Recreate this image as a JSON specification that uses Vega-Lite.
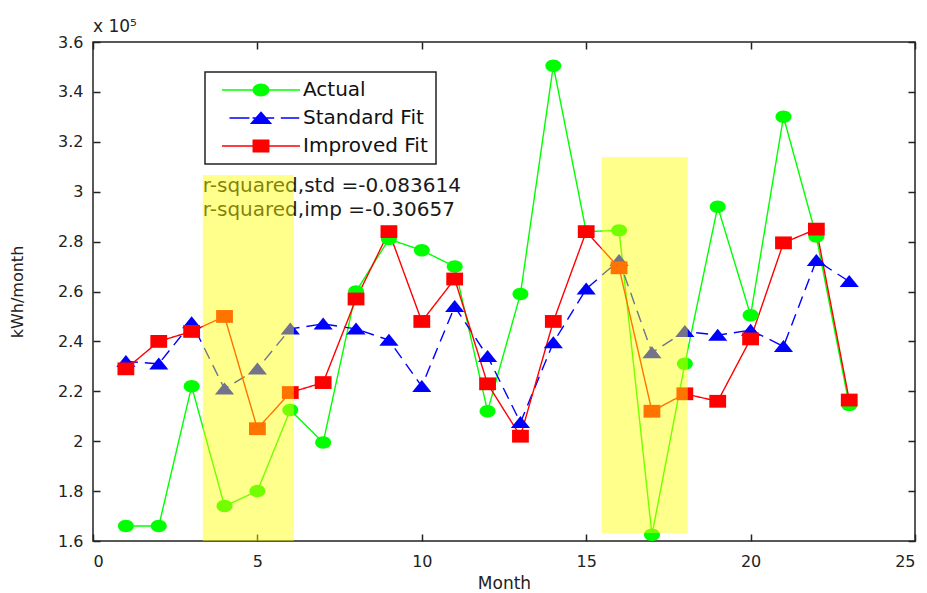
{
  "$schema": "https://vega.github.io/schema/vega-lite/v6.json",
  "width": 822,
  "height": 499,
  "autosize": {"type": "none"},
  "padding": {"left": 93, "top": 42, "right": 12, "bottom": 52},
  "background": "white",
  "title": {"text": "x 10⁵", "anchor": "start", "frame": "group", "fontSize": 17, "fontWeight": "normal", "font": "DejaVu Sans", "offset": -2, "color": "#222"},
  "config": {
    "view": {"stroke": "#222", "strokeWidth": 1.5},
    "axis": {"labelFont": "DejaVu Sans", "titleFont": "DejaVu Sans", "labelFontSize": 16, "titleFontSize": 17, "titleFontWeight": "normal", "labelColor": "#222", "titleColor": "#222", "domain": false, "grid": false, "tickColor": "#222", "tickWidth": 1.5, "tickSize": -7},
    "legend": {"strokeWidth": 1.5}
  },
  "datasets": {
    "series": [
      {"month": 1, "series": "Actual", "kwh": 166000},
      {"month": 2, "series": "Actual", "kwh": 166000},
      {"month": 3, "series": "Actual", "kwh": 222000},
      {"month": 4, "series": "Actual", "kwh": 174000},
      {"month": 5, "series": "Actual", "kwh": 180000},
      {"month": 6, "series": "Actual", "kwh": 212500},
      {"month": 7, "series": "Actual", "kwh": 199500},
      {"month": 8, "series": "Actual", "kwh": 260000},
      {"month": 9, "series": "Actual", "kwh": 281000},
      {"month": 10, "series": "Actual", "kwh": 276500},
      {"month": 11, "series": "Actual", "kwh": 270000},
      {"month": 12, "series": "Actual", "kwh": 212000},
      {"month": 13, "series": "Actual", "kwh": 259000},
      {"month": 14, "series": "Actual", "kwh": 350500},
      {"month": 15, "series": "Actual", "kwh": 284000},
      {"month": 16, "series": "Actual", "kwh": 284500},
      {"month": 17, "series": "Actual", "kwh": 162500},
      {"month": 18, "series": "Actual", "kwh": 231000},
      {"month": 19, "series": "Actual", "kwh": 294000},
      {"month": 20, "series": "Actual", "kwh": 250500},
      {"month": 21, "series": "Actual", "kwh": 330000},
      {"month": 22, "series": "Actual", "kwh": 282000},
      {"month": 23, "series": "Actual", "kwh": 214500},
      {"month": 1, "series": "Standard Fit", "kwh": 232000},
      {"month": 2, "series": "Standard Fit", "kwh": 231000},
      {"month": 3, "series": "Standard Fit", "kwh": 247500},
      {"month": 4, "series": "Standard Fit", "kwh": 221000},
      {"month": 5, "series": "Standard Fit", "kwh": 229000},
      {"month": 6, "series": "Standard Fit", "kwh": 245000},
      {"month": 7, "series": "Standard Fit", "kwh": 247000},
      {"month": 8, "series": "Standard Fit", "kwh": 245000},
      {"month": 9, "series": "Standard Fit", "kwh": 240500},
      {"month": 10, "series": "Standard Fit", "kwh": 222000},
      {"month": 11, "series": "Standard Fit", "kwh": 254000},
      {"month": 12, "series": "Standard Fit", "kwh": 234000},
      {"month": 13, "series": "Standard Fit", "kwh": 207500},
      {"month": 14, "series": "Standard Fit", "kwh": 239500},
      {"month": 15, "series": "Standard Fit", "kwh": 261000},
      {"month": 16, "series": "Standard Fit", "kwh": 272500},
      {"month": 17, "series": "Standard Fit", "kwh": 235500},
      {"month": 18, "series": "Standard Fit", "kwh": 244000},
      {"month": 19, "series": "Standard Fit", "kwh": 242500},
      {"month": 20, "series": "Standard Fit", "kwh": 244500},
      {"month": 21, "series": "Standard Fit", "kwh": 238000},
      {"month": 22, "series": "Standard Fit", "kwh": 272500},
      {"month": 23, "series": "Standard Fit", "kwh": 264000},
      {"month": 1, "series": "Improved Fit", "kwh": 229000},
      {"month": 2, "series": "Improved Fit", "kwh": 240000},
      {"month": 3, "series": "Improved Fit", "kwh": 244000},
      {"month": 4, "series": "Improved Fit", "kwh": 250000},
      {"month": 5, "series": "Improved Fit", "kwh": 205000},
      {"month": 6, "series": "Improved Fit", "kwh": 219500},
      {"month": 7, "series": "Improved Fit", "kwh": 223500},
      {"month": 8, "series": "Improved Fit", "kwh": 257000},
      {"month": 9, "series": "Improved Fit", "kwh": 284000},
      {"month": 10, "series": "Improved Fit", "kwh": 248000},
      {"month": 11, "series": "Improved Fit", "kwh": 265000},
      {"month": 12, "series": "Improved Fit", "kwh": 223000},
      {"month": 13, "series": "Improved Fit", "kwh": 202000},
      {"month": 14, "series": "Improved Fit", "kwh": 248000},
      {"month": 15, "series": "Improved Fit", "kwh": 284000},
      {"month": 16, "series": "Improved Fit", "kwh": 269500},
      {"month": 17, "series": "Improved Fit", "kwh": 212000},
      {"month": 18, "series": "Improved Fit", "kwh": 219000},
      {"month": 19, "series": "Improved Fit", "kwh": 216000},
      {"month": 20, "series": "Improved Fit", "kwh": 241000},
      {"month": 21, "series": "Improved Fit", "kwh": 279500},
      {"month": 22, "series": "Improved Fit", "kwh": 285000},
      {"month": 23, "series": "Improved Fit", "kwh": 216500}
    ],
    "bands": [
      {"m1": 3.34, "m2": 6.11, "k1": 160000, "k2": 306700},
      {"m1": 15.47, "m2": 18.09, "k1": 163200, "k2": 313900}
    ],
    "notes": [
      {"label": "r-squared,std =-0.083614", "month": 3.34, "kwh": 302300},
      {"label": "r-squared,imp =-0.30657", "month": 3.34, "kwh": 292700}
    ]
  },
  "resolve": {"scale": {"shape": "independent"}, "axis": {"x": "independent", "y": "independent"}},
  "layer": [
    {
      "data": {"name": "notes"},
      "mark": {"type": "text", "align": "left", "baseline": "middle", "font": "DejaVu Sans", "fontSize": 20, "color": "#1a1a1a"},
      "encoding": {
        "x": {"field": "month", "type": "quantitative", "scale": {"domain": [0, 25], "nice": false, "zero": false}, "axis": null},
        "y": {"field": "kwh", "type": "quantitative", "scale": {"domain": [160000, 360000], "nice": false, "zero": false}, "axis": null},
        "text": {"field": "label"}
      }
    },
    {
      "data": {"name": "series"},
      "mark": {"type": "line", "strokeWidth": 1.4},
      "encoding": {
        "x": {"field": "month", "type": "quantitative", "scale": {"domain": [0, 25], "nice": false, "zero": false},
              "axis": {"orient": "bottom", "values": [0, 5, 10, 15, 20, 25], "title": "Month", "labelPadding": 19, "titlePadding": 6}},
        "y": {"field": "kwh", "type": "quantitative", "scale": {"domain": [160000, 360000], "nice": false, "zero": false},
              "axis": {"orient": "left", "values": [160000, 180000, 200000, 220000, 240000, 260000, 280000, 300000, 320000, 340000, 360000], "labelExpr": "format(datum.value/100000, '')", "title": "kWh/month", "titleFontSize": 16, "labelPadding": 17, "titlePadding": 32}},
        "color": {"field": "series", "type": "nominal", "scale": {"domain": ["Actual", "Standard Fit", "Improved Fit"], "range": ["#00ff00", "#0000ff", "#ff0000"]}, "legend": null},
        "strokeDash": {"field": "series", "type": "nominal", "scale": {"domain": ["Actual", "Standard Fit", "Improved Fit"], "range": [[1, 0], [12, 7], [1, 0]]}, "legend": null}
      }
    },
    {
      "data": {"name": "series"},
      "transform": [{"filter": "datum.series === 'Actual'"}],
      "mark": {"type": "point", "filled": true, "size": 256, "opacity": 1, "color": "#00ff00", "shape": "M1,0A1,0.78 0 1,1 -1,0A1,0.78 0 1,1 1,0Z"},
      "encoding": {
        "x": {"field": "month", "type": "quantitative", "scale": {"domain": [0, 25], "nice": false, "zero": false}, "axis": null},
        "y": {"field": "kwh", "type": "quantitative", "scale": {"domain": [160000, 360000], "nice": false, "zero": false}, "axis": null}
      }
    },
    {
      "data": {"name": "series"},
      "transform": [{"filter": "datum.series === 'Standard Fit'"}],
      "mark": {"type": "point", "filled": true, "size": 256, "opacity": 1, "color": "#0000ff", "shape": "M0,-0.8L1.2,0.7L-1.2,0.7Z"},
      "encoding": {
        "x": {"field": "month", "type": "quantitative", "scale": {"domain": [0, 25], "nice": false, "zero": false}, "axis": null},
        "y": {"field": "kwh", "type": "quantitative", "scale": {"domain": [160000, 360000], "nice": false, "zero": false}, "axis": null}
      }
    },
    {
      "data": {"name": "series"},
      "transform": [{"filter": "datum.series === 'Improved Fit'"}],
      "mark": {"type": "point", "filled": true, "size": 256, "opacity": 1, "color": "#ff0000", "shape": "M-1.05,-0.8H1.05V0.8H-1.05Z"},
      "encoding": {
        "x": {"field": "month", "type": "quantitative", "scale": {"domain": [0, 25], "nice": false, "zero": false}, "axis": null},
        "y": {"field": "kwh", "type": "quantitative", "scale": {"domain": [160000, 360000], "nice": false, "zero": false}, "axis": null}
      }
    },
    {
      "data": {"name": "series"},
      "mark": {"type": "point", "filled": true, "opacity": 0,
               "color": {"expr": "datum.value === 'Actual' ? '#00ff00' : (datum.value === 'Standard Fit' ? '#0000ff' : '#ff0000')"}},
      "encoding": {
        "x": {"field": "month", "type": "quantitative", "scale": {"domain": [0, 25], "nice": false, "zero": false}, "axis": null},
        "y": {"field": "kwh", "type": "quantitative", "scale": {"domain": [160000, 360000], "nice": false, "zero": false}, "axis": null},
        "shape": {"field": "series", "type": "nominal",
          "scale": {"domain": ["Actual", "Standard Fit", "Improved Fit"], "range": [
            "M-4.875,-0.09H4.875V0.09H-4.875ZM1.06,0A1.06,0.81 0 1,1 -1.06,0A1.06,0.81 0 1,1 1.06,0Z",
            "M-3.94,-0.09H-1.44V0.09H-3.94ZM-1.06,-0.09H1.65V0.09H-1.06ZM2.48,-0.09H4.78V0.09H2.48ZM0,-0.85L1.4,0.75L-1.4,0.75Z",
            "M-4.875,-0.09H4.875V0.09H-4.875ZM-1.06,-0.81H1.06V0.81H-1.06Z"]},
          "legend": {
            "title": null, "orient": "none", "legendX": 112, "legendY": 30,
            "symbolSize": 256, "symbolOffset": 38, "labelOffset": 32,
            "labelFont": "DejaVu Sans", "labelFontSize": 20, "labelColor": "#111",
            "padding": 8, "rowPadding": 8,
            "strokeColor": "#222", "fillColor": "white",
            "encode": {"symbols": {"update": {"opacity": {"value": 1}}}}
          }
        }
      }
    },
    {
      "data": {"name": "bands"},
      "mark": {"type": "rect", "color": "#ffff00", "opacity": 0.45},
      "encoding": {
        "x": {"field": "m1", "type": "quantitative", "scale": {"domain": [0, 25], "nice": false, "zero": false},
              "axis": {"orient": "top", "values": [0, 5, 10, 15, 20, 25], "labels": false, "title": null}},
        "x2": {"field": "m2"},
        "y": {"field": "k1", "type": "quantitative", "scale": {"domain": [160000, 360000], "nice": false, "zero": false},
              "axis": {"orient": "right", "values": [160000, 180000, 200000, 220000, 240000, 260000, 280000, 300000, 320000, 340000, 360000], "labels": false, "title": null}},
        "y2": {"field": "k2"}
      }
    }
  ]
}
